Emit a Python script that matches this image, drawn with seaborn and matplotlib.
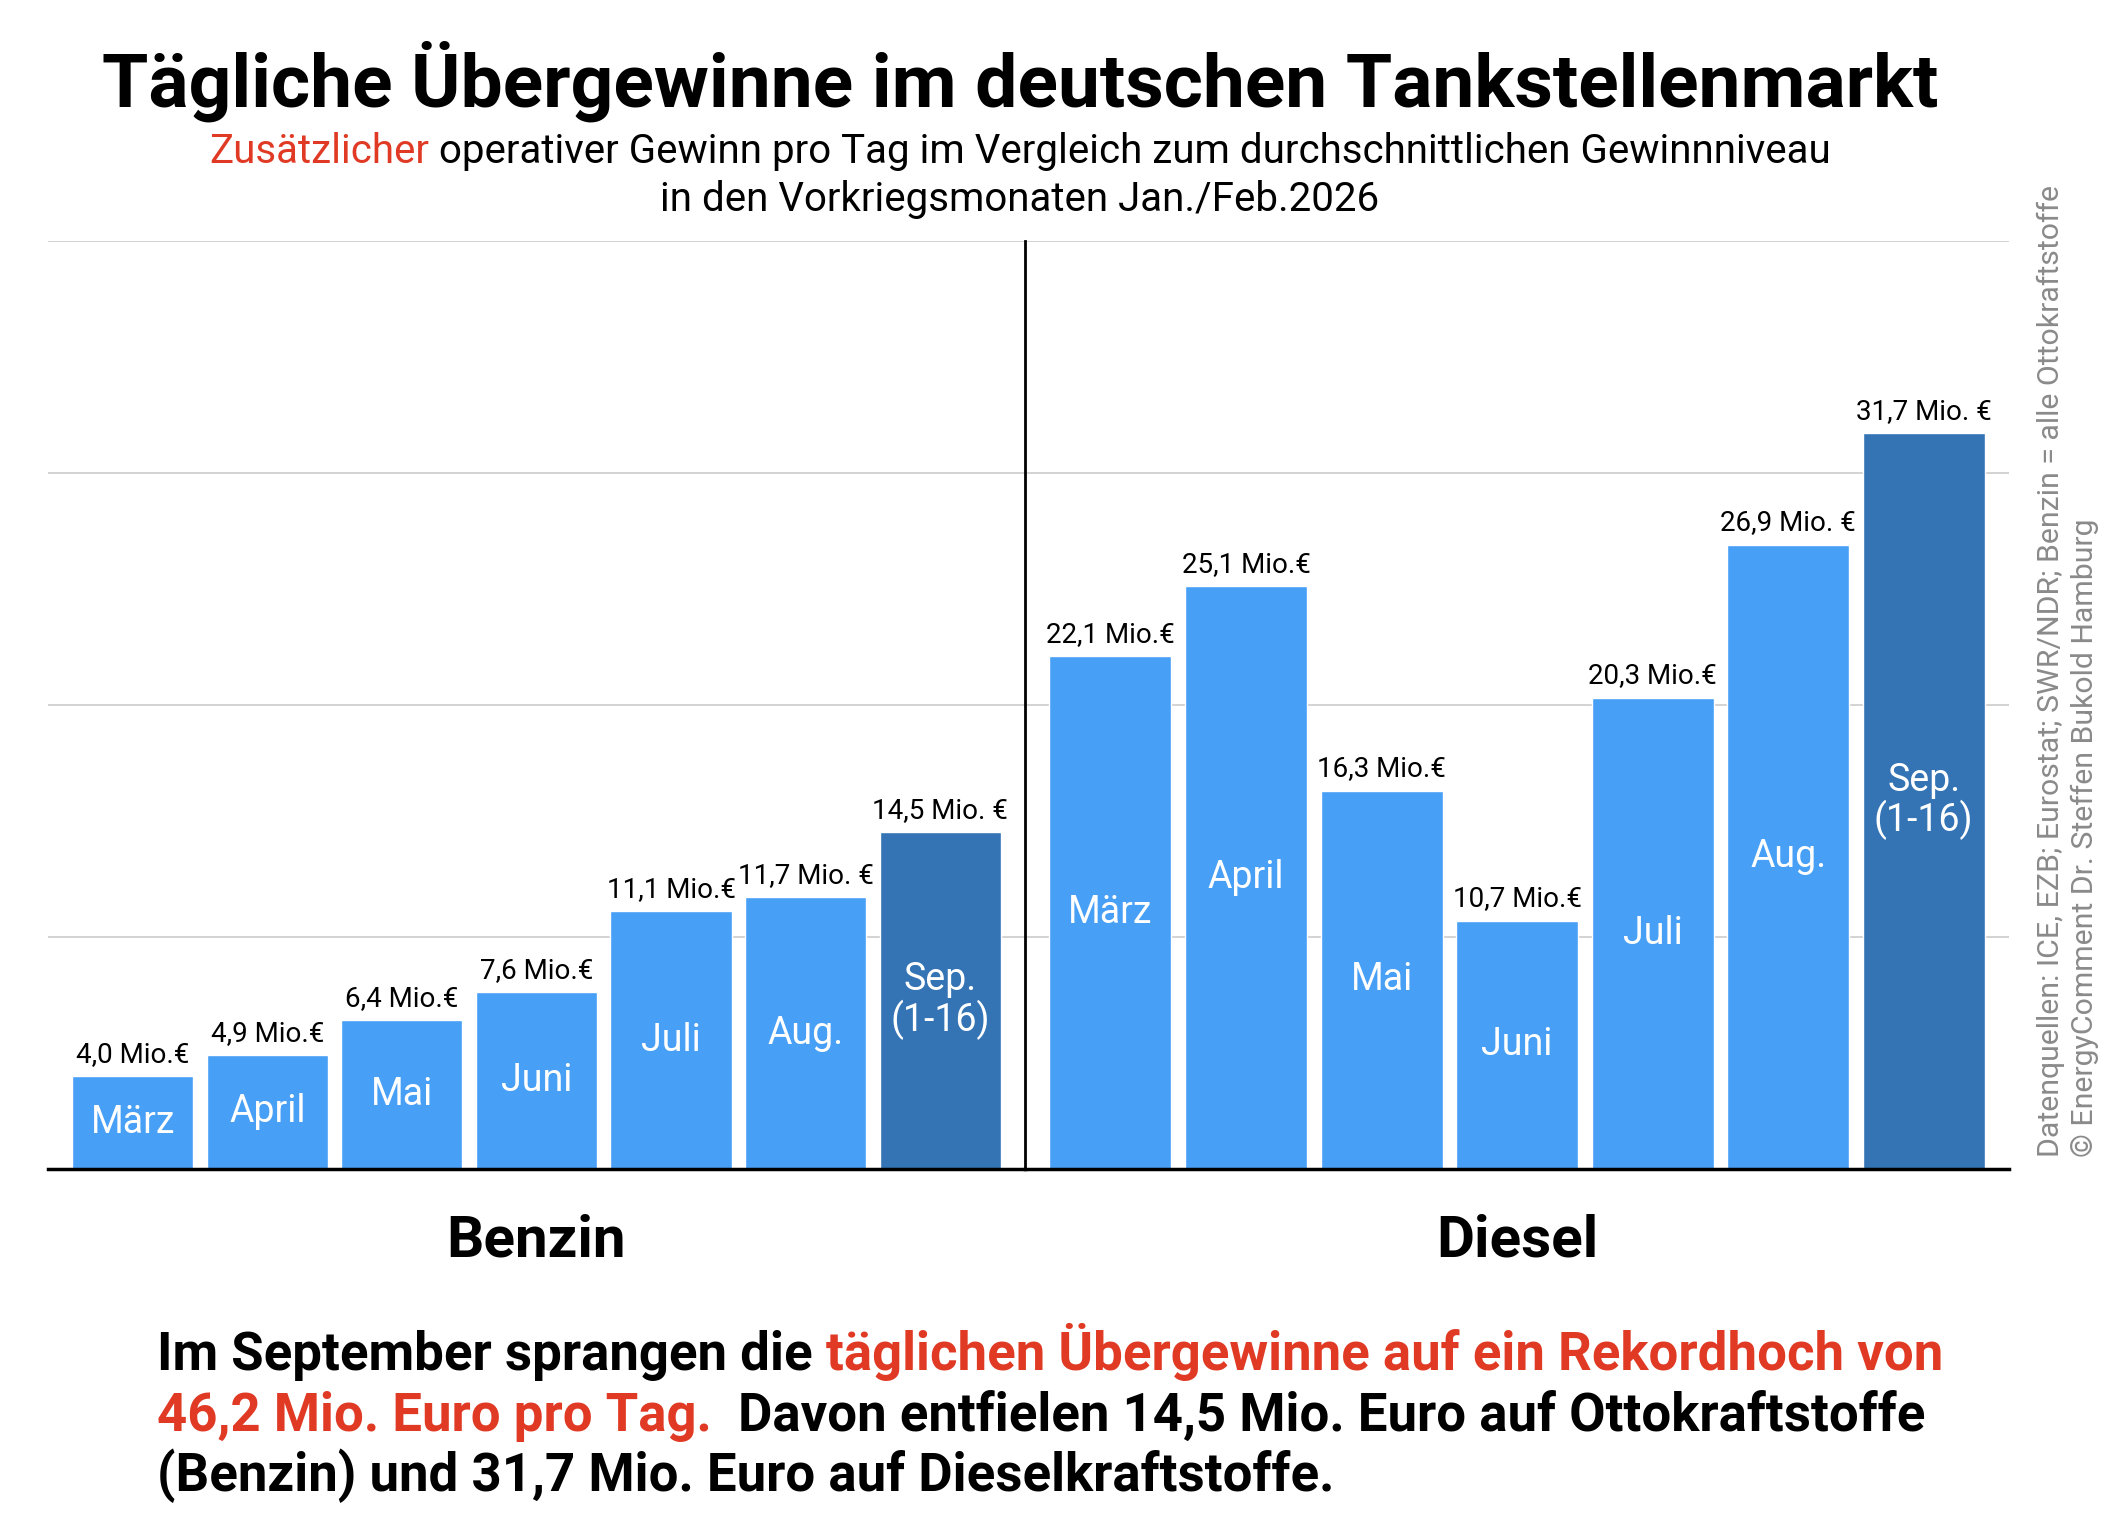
import numpy as np
import pandas as pd
import matplotlib
matplotlib.use("Agg")
import matplotlib.pyplot as plt
import seaborn as sns

# data
monate = ["März", "April", "Mai", "Juni", "Juli", "Aug.", "Sep.\n(1-16)"]
benzin = [4.0, 4.9, 6.4, 7.6, 11.1, 11.7, 14.5]
diesel = [22.1, 25.1, 16.3, 10.7, 20.3, 26.9, 31.7]
benzin_labels = ["4,0 Mio.€", "4,9 Mio.€", "6,4 Mio.€", "7,6 Mio.€",
                 "11,1 Mio.€", "11,7 Mio. €", "14,5 Mio. €"]
diesel_labels = ["22,1 Mio.€", "25,1 Mio.€", "16,3 Mio.€", "10,7 Mio.€",
                 "20,3 Mio.€", "26,9 Mio. €", "31,7 Mio. €"]
gruppen = ["Benzin", "Diesel"]
y_ticks = [0, 10, 20, 30, 40]

HELL = "#489ff6"
DUNKEL = "#3474b5"
ROT = "#e03a25"
GRAU = "#8a8a8a"
farben = [HELL] * 6 + [DUNKEL]

sns.set_style("white")
plt.rcParams["font.family"] = ["Roboto", "DejaVu Sans"]
plt.rcParams["text.color"] = "black"

fig = plt.figure(figsize=(21.2, 15.14), dpi=100)
ax_b = fig.add_axes([0.0226, 0.228, 0.4609, 0.613])
ax_d = fig.add_axes([0.4835, 0.228, 0.4642, 0.613])


def draw_group(ax, werte, labels, name):
    df = pd.DataFrame({"monat": monate, "wert": werte})
    sns.barplot(data=df, x="monat", y="wert", hue="monat", palette=farben,
                width=0.9, legend=False, saturation=1, ax=ax)
    for i, cont in enumerate(ax.containers):
        ax.bar_label(cont, labels=[labels[i]], padding=6, fontsize=20,
                     color="black")
        bar = cont[0]
        ax.text(bar.get_x() + bar.get_width() / 2, bar.get_height() / 2,
                monate[i], color="white", fontsize=27, ha="center",
                va="center", linespacing=1.05)
    ax.set_xlim(-0.63, 6.63)
    ax.set_ylim(0, 40)
    ax.set_yticks(y_ticks)
    ax.grid(axis="y", color="#c8c8c8", lw=1.1)
    ax.set_axisbelow(True)
    ax.tick_params(length=0, labelleft=False, labelbottom=False)
    ax.set_xlabel("")
    ax.set_ylabel("")
    for s in ["top", "left", "right"]:
        ax.spines[s].set_visible(False)
    ax.spines["bottom"].set_color("black")
    ax.spines["bottom"].set_linewidth(2.5)
    ax.text(0.5, -0.095, name, transform=ax.transAxes, ha="center",
            va="baseline", fontsize=42, fontweight="bold")


draw_group(ax_b, benzin, benzin_labels, gruppen[0])
draw_group(ax_d, diesel, diesel_labels, gruppen[1])
# separator between the two groups
ax_d.spines["left"].set_visible(True)
ax_d.spines["left"].set_color("black")
ax_d.spines["left"].set_linewidth(2)

renderer = fig.canvas.get_renderer()


def text_width(s, size, weight):
    t = fig.text(0, 0, s, fontsize=size, fontweight=weight)
    w = t.get_window_extent(renderer).width / fig.bbox.width
    t.remove()
    return w


def rich_line(pieces, x, y, size, weight="normal", ha="left"):
    # pieces: (text, colour, spaces after)
    space = text_width("a a", size, weight) - text_width("aa", size, weight)
    widths = [text_width(p[0], size, weight) for p in pieces]
    total = sum(widths) + sum(p[2] for p in pieces[:-1]) * space
    pos = x - total / 2 if ha == "center" else x
    for (s, c, gap), w in zip(pieces, widths):
        fig.text(pos, y, s, color=c, fontsize=size, fontweight=weight,
                 ha="left", va="baseline")
        pos += w + gap * space


# title and subtitle
fig.text(0.481, 0.9295, "Tägliche Übergewinne im deutschen Tankstellenmarkt",
         ha="center", va="baseline", fontsize=54, fontweight="bold")
rich_line([("Zusätzlicher", ROT, 1),
           ("operativer Gewinn pro Tag im Vergleich zum durchschnittlichen Gewinnniveau", "black", 0)],
          0.481, 0.8924, 29, ha="center")
fig.text(0.481, 0.8608, "in den Vorkriegsmonaten Jan./Feb.2026",
         ha="center", va="baseline", fontsize=29)

# bottom text
rich_line([("Im September sprangen die", "black", 1),
           ("täglichen Übergewinne auf ein Rekordhoch von", ROT, 0)],
          0.0742, 0.0949, 38, weight="bold")
rich_line([("46,2 Mio. Euro pro Tag.", ROT, 2),
           ("Davon entfielen 14,5 Mio. Euro auf Ottokraftstoffe", "black", 0)],
          0.0742, 0.0551, 38, weight="bold")
rich_line([("(Benzin) und 31,7 Mio. Euro auf Dieselkraftstoffe.", "black", 0)],
          0.0742, 0.0154, 38, weight="bold")

# source on the right
fig.text(0.9672, 0.236,
         "Datenquellen: ICE, EZB; Eurostat; SWR/NDR; Benzin = alle Ottokraftstoffe",
         rotation=90, ha="center", va="bottom", fontsize=21.8, color=GRAU)
fig.text(0.9834, 0.236, "© EnergyComment Dr. Steffen Bukold Hamburg",
         rotation=90, ha="center", va="bottom", fontsize=21.8, color=GRAU)

fig.savefig("out.png", dpi=100, facecolor="white")
